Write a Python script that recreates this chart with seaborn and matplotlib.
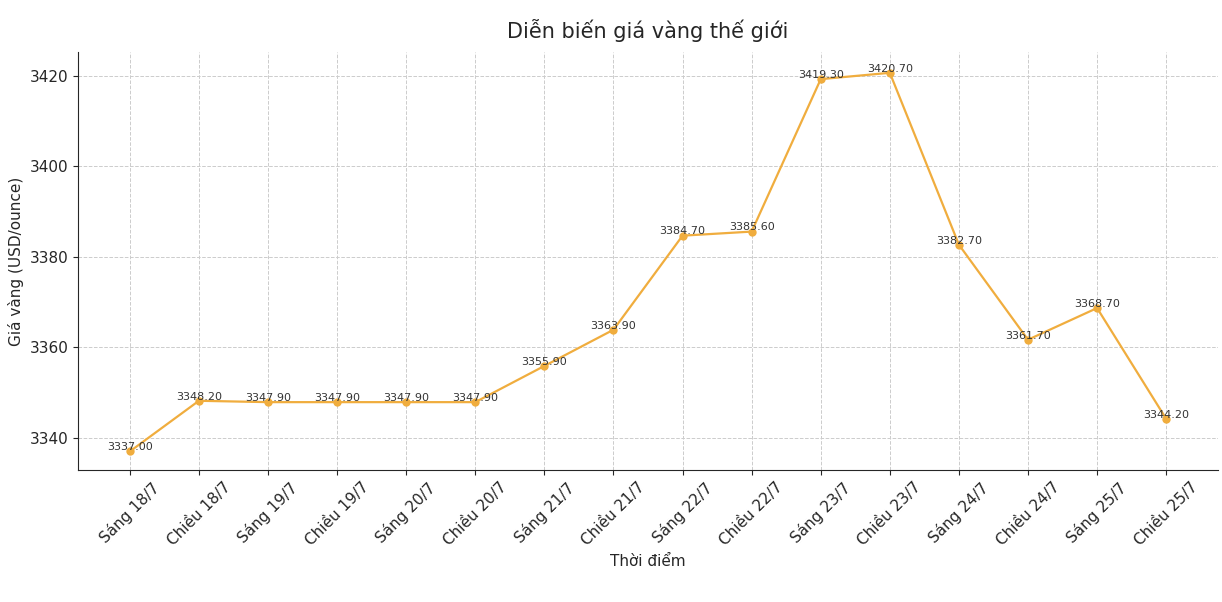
import matplotlib
matplotlib.use("Agg")
import matplotlib.pyplot as plt
import seaborn as sns
import pandas as pd

labels = ["Sáng 18/7","Chiều 18/7","Sáng 19/7","Chiều 19/7","Sáng 20/7","Chiều 20/7",
          "Sáng 21/7","Chiều 21/7","Sáng 22/7","Chiều 22/7","Sáng 23/7","Chiều 23/7",
          "Sáng 24/7","Chiều 24/7","Sáng 25/7","Chiều 25/7"]
prices = [3337.00,3348.20,3347.90,3347.90,3347.90,3347.90,3355.90,3363.90,
          3384.70,3385.60,3419.30,3420.70,3382.70,3361.70,3368.70,3344.20]

sns.set_style("ticks")
plt.rcParams['font.family'] = ['DejaVu Sans']
df = pd.DataFrame({"x": range(len(labels)), "y": prices})

fig = plt.figure(figsize=(12.22, 6.02), dpi=100)
ax = fig.add_axes([78/1222, 1-470/602, 1140/1222, 418/602])
color = "#F0AD3E"
sns.lineplot(data=df, x="x", y="y", ax=ax, color=color, marker="o", markersize=6,
             markeredgewidth=0, linewidth=1.6)
for i, v in enumerate(prices):
    ax.annotate(f"{v:.2f}", (i, v), xytext=(0, 3), textcoords="offset points",
                ha="center", va="center", fontsize=8, color="#333333")
ax.set_xticks(range(len(labels)))
ax.set_xticklabels(labels, rotation=45, ha="center", fontsize=11)
ax.set_xlim(-0.75, 15.75)
ax.set_ylim(3332.9, 3425.3)
ax.set_yticks([3340, 3360, 3380, 3400, 3420])
ax.tick_params(axis="y", labelsize=11)
ax.grid(True, linestyle="--", color="#cccccc", linewidth=0.7)
ax.set_xlabel("Thời điểm", fontsize=11)
ax.set_ylabel("Giá vàng (USD/ounce)", fontsize=11)
ax.set_title("Diễn biến giá vàng thế giới", fontsize=15, pad=10)
sns.despine(ax=ax)
fig.savefig("out.png", dpi=100)
